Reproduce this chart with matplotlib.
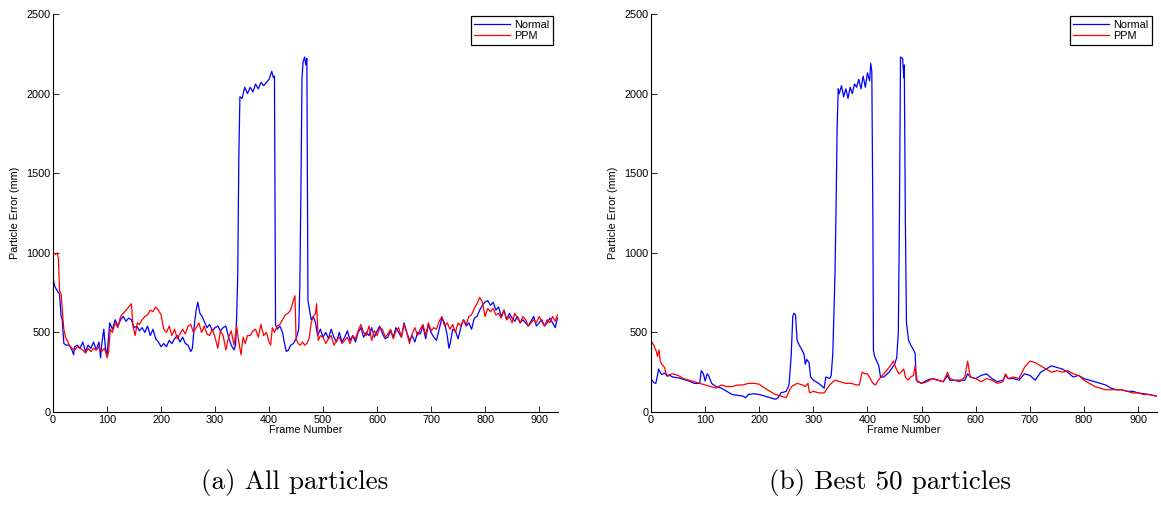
import matplotlib
matplotlib.use("Agg")
import matplotlib.pyplot as plt
import numpy as np

# ---- (a) all particles ----
a_normal_f = [0, 3, 8, 12, 15, 17, 20, 25, 30, 35, 38, 40, 45, 50, 55, 60, 65, 70, 75, 80, 85, 88, 90, 94, 97,
              100, 103, 105, 110, 115, 120, 125, 130, 135, 140, 145, 150, 155, 160, 165, 170, 175, 180, 185, 190, 195,
              200, 205, 210, 215, 220, 225, 230, 235, 240, 245, 250, 255, 258, 262, 265, 268, 272, 276, 280, 285, 290, 295,
              300, 305, 310, 315, 320, 325, 330, 335, 338, 340, 342, 344, 346, 350, 355, 360, 365, 370, 375, 380, 385, 390, 395,
              400, 405, 408, 410, 412, 415, 420, 425, 428, 432, 436, 440, 445, 450, 455, 457, 459, 461, 463, 466, 468, 470, 472, 475, 478, 482, 486, 490, 495,
              500, 505, 510, 515, 520, 525, 530, 535, 540, 545, 550, 555, 560, 565, 570, 575, 580, 585, 590, 595,
              600, 605, 610, 615, 620, 625, 630, 635, 640, 645, 650, 655, 660, 665, 670, 675, 680, 685, 690, 695,
              700, 705, 710, 715, 720, 725, 730, 733, 736, 740, 745, 750, 755, 760, 765, 770, 775, 780, 785, 790, 795,
              800, 805, 810, 815, 820, 825, 830, 835, 840, 845, 850, 855, 860, 865, 870, 875, 880, 885, 890, 895,
              900, 905, 910, 915, 920, 925, 930, 934]
a_normal_v = [840, 790, 760, 740, 600, 580, 430, 420, 420, 390, 360, 410, 420, 400, 440, 380, 420, 400, 440, 390, 440, 340, 420, 520, 400,
              360, 480, 560, 520, 580, 540, 580, 600, 570, 590, 580, 530, 540, 510, 530, 500, 540, 480, 520, 460, 440,
              410, 430, 410, 450, 430, 460, 480, 440, 470, 430, 420, 380, 400, 560, 640, 690, 620, 600, 570, 530, 550, 510,
              530, 540, 510, 530, 540, 470, 420, 390, 420, 600, 860, 1600, 1980, 1970, 2040, 2000, 2040, 2010, 2060, 2030, 2070, 2050, 2070,
              2090, 2140, 2100, 2110, 550, 520, 540, 500, 440, 380, 390, 420, 430, 460, 520, 800, 1400, 2100, 2200, 2230, 2180, 2220, 700, 640, 580, 600, 560, 480, 520,
              470, 500, 460, 520, 470, 440, 500, 440, 470, 510, 450, 480, 440, 500, 530, 470, 500, 480, 530, 470,
              510, 540, 490, 460, 470, 510, 470, 530, 500, 470, 560, 500, 450, 480, 440, 500, 490, 540, 460, 550,
              500, 470, 450, 520, 590, 560, 480, 400, 440, 520, 510, 460, 530, 580, 540, 560, 520, 590, 600, 640, 670,
              690, 700, 670, 690, 640, 660, 600, 640, 580, 620, 590, 570, 600, 560, 580, 560, 540, 570, 600, 540,
              560, 580, 540, 560, 590, 560, 530, 590]

a_ppm_f = [0, 5, 8, 10, 12, 15, 18, 20, 23, 26, 30, 35, 40, 45, 50, 55, 60, 65, 70, 75, 80, 85, 90, 95, 98,
           100, 103, 106, 110, 115, 120, 125, 130, 135, 140, 145, 148, 152, 156, 160, 165, 170, 175, 180, 185, 190, 195,
           200, 205, 210, 215, 220, 225, 230, 235, 240, 245, 250, 255, 260, 265, 270, 275, 280, 285, 290, 295,
           300, 305, 310, 315, 320, 325, 330, 335, 340, 343, 348, 352, 356, 360, 365, 370, 375, 380, 385, 390, 395,
           400, 403, 406, 410, 415, 420, 425, 430, 435, 440, 445, 448, 450, 454, 458, 462, 466, 470, 474, 478, 482, 486, 488, 491, 495,
           500, 505, 510, 515, 520, 525, 530, 535, 540, 545, 550, 555, 560, 565, 570, 575, 580, 585, 590, 595,
           600, 605, 610, 615, 620, 625, 630, 635, 640, 645, 650, 655, 660, 665, 670, 675, 680, 685, 690, 695,
           700, 705, 710, 715, 720, 725, 730, 735, 740, 745, 750, 755, 760, 765, 770, 775, 780, 785, 790, 795,
           800, 805, 810, 815, 820, 825, 830, 835, 840, 845, 850, 855, 860, 865, 870, 875, 880, 885, 890, 895,
           900, 905, 910, 915, 920, 925, 930, 934]
a_ppm_v = [1000, 990, 1000, 960, 760, 740, 600, 520, 470, 450, 420, 400, 390, 410, 400, 390, 370, 400, 380, 400, 390, 410, 380, 400, 370,
           340, 380, 520, 500, 560, 530, 600, 620, 640, 660, 680, 540, 480, 560, 550, 580, 600, 610, 640, 630, 660, 640,
           610, 520, 500, 540, 480, 520, 460, 490, 520, 490, 540, 550, 500, 530, 560, 500, 540, 490, 480, 520,
           470, 400, 510, 480, 390, 470, 510, 420, 540, 460, 360, 470, 430, 480, 480, 510, 520, 470, 550, 480, 500,
           440, 420, 530, 500, 540, 550, 580, 610, 620, 640, 700, 730, 460, 430, 420, 440, 420, 430, 460, 560, 600, 620, 680, 450, 480,
           470, 430, 460, 480, 420, 450, 470, 430, 450, 470, 430, 480, 460, 510, 550, 500, 480, 540, 450, 510,
           480, 530, 520, 470, 490, 520, 460, 510, 530, 470, 550, 500, 430, 490, 530, 480, 520, 550, 480, 560,
           510, 530, 520, 570, 600, 540, 560, 520, 550, 500, 560, 540, 580, 550, 600, 610, 650, 680, 720, 690,
           600, 650, 630, 650, 610, 620, 590, 640, 580, 600, 560, 620, 590, 560, 600, 580, 540, 560, 580, 560,
           600, 570, 540, 580, 560, 600, 570, 610]

# ---- (b) best 50 particles ----
b_normal_f = [0, 5, 9, 12, 14, 17, 20, 25, 30, 35, 40, 50, 60, 70, 80, 90, 93, 97,
              100, 104, 107, 112, 120, 130, 140, 150, 160, 170, 175, 180, 190,
              200, 210, 220, 230, 235, 240, 250, 255, 259, 262, 264, 267, 270, 274, 279, 283, 285, 288, 292, 295,
              300, 310, 320, 323, 330, 333, 336, 340, 342, 344, 346, 348, 352, 356, 360, 364, 368, 372, 376, 380, 384, 388, 392, 396,
              400, 404, 406, 408, 410, 411, 413, 417, 421, 424, 430, 440, 450, 454, 457, 459, 461, 465, 467, 468, 470, 472, 476, 480, 485, 488, 490, 495,
              500, 510, 520, 530, 540, 548, 552, 560, 570, 580, 585, 590,
              600, 610, 620, 630, 640, 650, 655, 660, 670, 680, 690,
              700, 710, 720, 730, 740, 750, 760, 770, 780, 790,
              800, 810, 820, 830, 840, 850, 860, 870, 880, 890,
              900, 910, 920, 934]
b_normal_v = [210, 185, 180, 230, 270, 250, 235, 245, 225, 230, 220, 215, 205, 195, 180, 180, 260, 240,
              195, 240, 225, 180, 160, 150, 130, 110, 105, 100, 90, 110, 115,
              110, 100, 90, 80, 90, 120, 130, 170, 350, 600, 620, 610, 450, 420, 390, 360, 300, 330, 310, 220,
              200, 180, 150, 220, 210, 230, 370, 870, 1300, 1800, 2030, 2000, 2050, 1980, 2030, 1970, 2040, 2000, 2060, 2040, 2090, 2030, 2110, 2040,
              2130, 2080, 2190, 2140, 1200, 390, 350, 320, 290, 220, 220, 250, 300, 340, 500, 1200, 2230, 2220, 2100, 2180, 1200, 560, 450, 420, 390, 370, 200, 190,
              180, 200, 210, 200, 190, 230, 200, 200, 200, 200, 240, 220,
              210, 230, 240, 210, 190, 200, 230, 210, 210, 200, 240,
              230, 200, 250, 270, 290, 280, 270, 250, 220, 230,
              210, 200, 190, 180, 170, 150, 140, 140, 130, 130,
              120, 115, 110, 100]

b_ppm_f = [0, 5, 10, 12, 15, 17, 20, 25, 28, 30, 40, 50, 60, 70, 80, 90,
           100, 110, 120, 130, 140, 150, 160, 170, 180, 190,
           200, 210, 220, 230, 240, 250, 255, 260, 270, 280, 285, 290, 293,
           300, 310, 320, 330, 340, 350, 360, 370, 380, 385, 390, 395,
           400, 410, 415, 420, 430, 440, 448, 452, 458, 462, 467, 470, 475, 480, 485, 488, 492,
           500, 510, 520, 530, 540, 548, 552, 560, 570, 580, 585, 590,
           600, 610, 620, 630, 640, 650, 655, 660, 670, 680, 690,
           700, 710, 720, 730, 740, 750, 760, 770, 780, 790,
           800, 810, 820, 830, 840, 850, 860, 870, 880, 890,
           900, 910, 920, 934]
b_ppm_v = [450, 420, 380, 350, 390, 320, 300, 280, 240, 230, 240, 230, 210, 200, 190, 180,
           170, 160, 150, 170, 160, 160, 170, 170, 180, 180,
           175, 150, 130, 110, 100, 90, 130, 160, 180, 170, 160, 180, 120,
           130, 120, 120, 170, 200, 190, 180, 180, 170, 170, 250, 240,
           240, 180, 170, 200, 240, 280, 320, 280, 240, 250, 270, 220, 200, 220, 230, 290, 190,
           180, 190, 210, 200, 190, 250, 210, 200, 190, 220, 320, 220,
           210, 190, 210, 200, 180, 190, 240, 210, 220, 210, 280,
           320, 310, 290, 270, 250, 260, 250, 260, 240, 230,
           200, 180, 160, 150, 140, 140, 140, 140, 130, 120,
           120, 110, 110, 100]

x_ticks = [0, 100, 200, 300, 400, 500, 600, 700, 800, 900]
y_ticks = [0, 500, 1000, 1500, 2000, 2500]
series_names = ["Normal", "PPM"]
captions = ["(a) All particles", "(b) Best 50 particles"]

plt.rcParams["font.family"] = ["Liberation Sans", "DejaVu Sans"]

fig = plt.figure(figsize=(11.61, 5.11), dpi=100)
ax1 = fig.add_axes([0.0457, 0.1937, 0.4349, 0.7789])
ax2 = fig.add_axes([0.5607, 0.1937, 0.4359, 0.7789])

panels = [(ax1, a_normal_f, a_normal_v, a_ppm_f, a_ppm_v),
          (ax2, b_normal_f, b_normal_v, b_ppm_f, b_ppm_v)]

for ax, nf, nv, pf, pv in panels:
    ax.plot(nf, nv, color="#0000ff", lw=0.9, label=series_names[0])
    ax.plot(pf, pv, color="#ff0000", lw=0.9, label=series_names[1])
    ax.set_xlim(0, 935)
    ax.set_ylim(0, 2500)
    ax.set_xticks(x_ticks)
    ax.set_yticks(y_ticks)
    ax.tick_params(direction="in", length=4, width=0.6, labelsize=7.8, pad=2)
    for s in ["top", "right"]:
        ax.spines[s].set_visible(False)
    for s in ["left", "bottom"]:
        ax.spines[s].set_linewidth(0.8)
    ax.set_xlabel("Frame Number", fontsize=7.8, labelpad=0)
    ax.set_ylabel("Particle Error (mm)", fontsize=7.8, labelpad=4)
    leg = ax.legend(loc="upper right", bbox_to_anchor=(0.99, 0.994), fontsize=7.8,
                    fancybox=False, framealpha=1, edgecolor="black",
                    handlelength=3.3, handletextpad=0.4, borderpad=0.3,
                    labelspacing=0.15, borderaxespad=0)
    leg.get_frame().set_linewidth(0.9)

fig.text(0.254, 0.055, captions[0], ha="center", va="center", fontsize=19.5, family="cmr10")
fig.text(0.767, 0.055, captions[1], ha="center", va="center", fontsize=19.5, family="cmr10")

fig.savefig("out.png", dpi=100)
